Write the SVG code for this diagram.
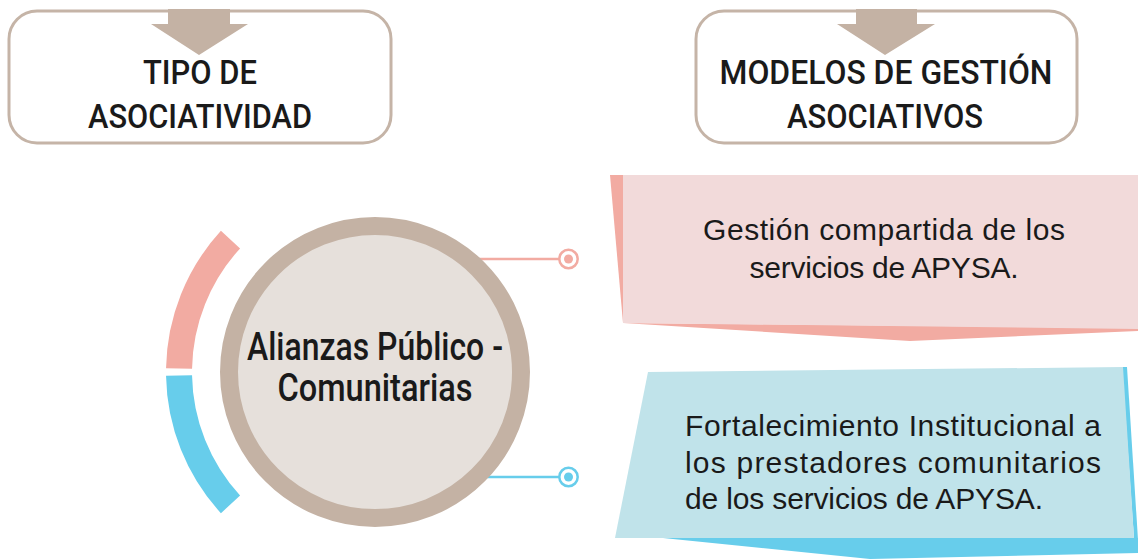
<svg xmlns="http://www.w3.org/2000/svg" width="1138" height="559" viewBox="0 0 1138 559">
<style>
.hbox{fill:#ffffff;stroke:#c5b4a7;stroke-width:3}
.harrow{fill:#c4b2a4}
.htext{font-family:Roboto,"Liberation Sans",Arial,sans-serif;font-weight:500;font-size:34px;fill:#1a1a1a;text-anchor:middle}
.ctext{font-family:Roboto,"Liberation Sans",Arial,sans-serif;font-weight:500;font-size:38px;fill:#1a1a1a;text-anchor:middle}
.btext{font-family:"Liberation Sans",Arial,sans-serif;font-size:30px;fill:#1a1a1a}
.pinkline{stroke:#f2aba2;stroke-width:2.5;fill:none}
.blueline{stroke:#67cdeb;stroke-width:2.5;fill:none}
</style>
<rect width="1138" height="559" fill="#ffffff"/>

<g id="header-tipo">
<rect class="hbox" x="9" y="11" width="382" height="132" rx="28"/>
<polygon class="harrow" points="168,9 230,9 230,24 248,24 199,55 151,24 168,24"/>
<text class="htext" x="200" y="84" textLength="114" lengthAdjust="spacingAndGlyphs">TIPO DE</text>
<text class="htext" x="200" y="128" textLength="224" lengthAdjust="spacingAndGlyphs">ASOCIATIVIDAD</text>
</g>

<g id="header-modelos">
<rect class="hbox" x="696" y="11" width="381" height="132" rx="28"/>
<polygon class="harrow" points="856,9 917,9 917,24 935,24 885,55 837,24 856,24"/>
<text class="htext" x="886" y="84" textLength="333" lengthAdjust="spacingAndGlyphs">MODELOS DE GESTIÓN</text>
<text class="htext" x="885" y="128" textLength="196" lengthAdjust="spacingAndGlyphs">ASOCIATIVOS</text>
</g>

<g id="connectors">
<line class="pinkline" x1="470" y1="259" x2="559" y2="259"/>
<line class="blueline" x1="470" y1="477" x2="559" y2="477"/>
<circle cx="568.5" cy="259" r="9.2" fill="#ffffff" stroke="#f2aba2" stroke-width="2.5"/>
<circle cx="568.5" cy="259" r="4.5" fill="#f2aba2"/>
<circle cx="568.5" cy="477" r="9.2" fill="#ffffff" stroke="#67cdeb" stroke-width="2.5"/>
<circle cx="568.5" cy="477" r="4.5" fill="#67cdeb"/>
</g>

<g id="arcs">
<path d="M 230.5 239.6 A 196 196 0 0 0 179.03 368.58" fill="none" stroke="#f2aba2" stroke-width="26"/>
<path d="M 179.03 375.42 A 196 196 0 0 0 230.5 504.4" fill="none" stroke="#67cdeb" stroke-width="26"/>
</g>

<g id="node-alianzas">
<circle cx="375" cy="372" r="146" fill="#e6e0db" stroke="#c4b2a4" stroke-width="18"/>
<text class="ctext" x="375" y="360" textLength="256" lengthAdjust="spacingAndGlyphs">Alianzas Público -</text>
<text class="ctext" x="375" y="401" textLength="195" lengthAdjust="spacingAndGlyphs">Comunitarias</text>
</g>

<g id="node-gestion">
<polygon points="623,323 910,341 1138,331 1138,328" fill="#f2aba2"/>
<polygon points="610,175 623,175 623,323" fill="#f2aba2"/>
<polygon points="623,175 1138,175 1138,329 623,323" fill="#f2dada"/>
<text class="btext" x="884" y="240" text-anchor="middle" textLength="362">Gestión compartida de los</text>
<text class="btext" x="884" y="278" text-anchor="middle" textLength="269">servicios de APYSA.</text>
</g>

<g id="node-fortalecimiento">
<polygon points="663,538 870,559 1138,553 1138,538" fill="#67cdeb"/>
<polygon points="1122,367 1127,367 1138,540 1134,538" fill="#67cdeb"/>
<polygon points="648,372 1123,367 1134,538 615,538" fill="#c0e3ea"/>
<text class="btext" x="685" y="436" textLength="416">Fortalecimiento Institucional a</text>
<text class="btext" x="685" y="473" textLength="416">los prestadores comunitarios</text>
<text class="btext" x="685" y="509" textLength="358">de los servicios de APYSA.</text>
</g>
</svg>
